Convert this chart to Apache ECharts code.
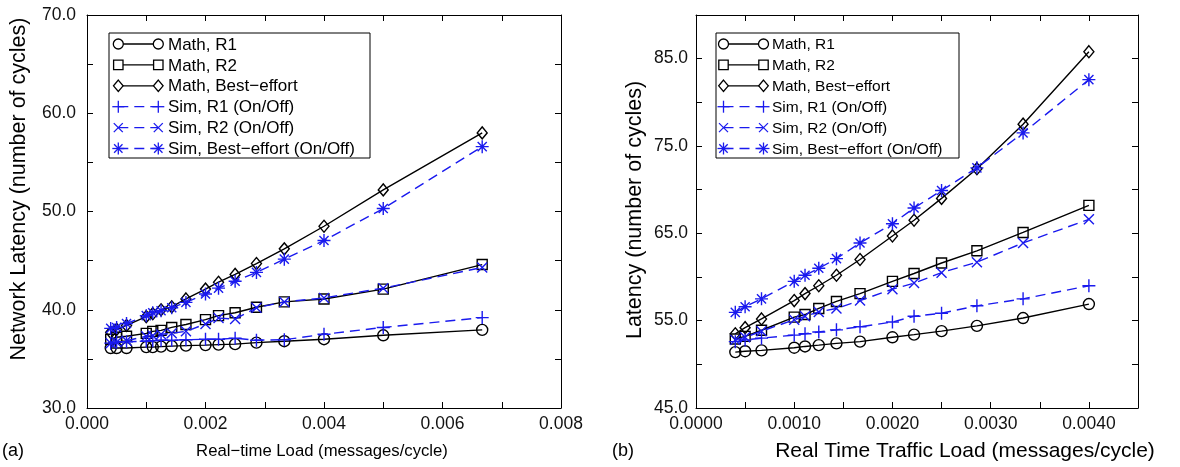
<!DOCTYPE html>
<html>
<head>
<meta charset="utf-8">
<script src="https://cdn.jsdelivr.net/npm/echarts@6/dist/echarts.min.js"></script>
<style>
html,body{margin:0;padding:0;background:#fff;}
#chart{width:1180px;height:467px;}
</style>
</head>
<body>
<div id="chart"></div>
<script>
// ---------- data ----------
const loadA = [0.0004, 0.0005, 0.000667, 0.001, 0.00111, 0.00125, 0.00143, 0.00167, 0.002, 0.00222, 0.0025, 0.00286, 0.00333, 0.004, 0.005, 0.00667];
const mathR1A = [36.1, 36.1, 36.1, 36.2, 36.2, 36.25, 36.3, 36.35, 36.4, 36.45, 36.5, 36.65, 36.8, 37.0, 37.4, 37.95];
const mathR2A = [37.0, 37.2, 37.3, 37.6, 37.8, 37.9, 38.2, 38.5, 39.0, 39.4, 39.7, 40.25, 40.8, 41.1, 42.1, 44.6];
const mathBEA = [37.7, 38.0, 38.4, 39.3, 39.6, 40.0, 40.3, 41.1, 42.1, 42.8, 43.6, 44.7, 46.2, 48.5, 52.2, 58.0];
const simR1A = [36.6, 36.7, 36.75, 36.8, 36.85, 36.9, 36.9, 36.95, 37.0, 37.0, 37.1, 36.9, 36.95, 37.5, 38.2, 39.2];
const simR2A = [36.6, 36.7, 36.85, 37.3, 37.35, 37.5, 37.6, 37.8, 38.55, 39.15, 39.05, 40.2, 40.8, 41.2, 42.2, 44.3];
const simBEA = [38.1, 38.2, 38.6, 39.4, 39.7, 39.9, 40.2, 40.75, 41.6, 42.2, 42.9, 43.8, 45.15, 47.05, 50.3, 56.6];

const loadB = [0.0004, 0.0005, 0.000667, 0.001, 0.00111, 0.00125, 0.00143, 0.00167, 0.002, 0.00222, 0.0025, 0.00286, 0.00333, 0.004];
const mathR1B = [51.4, 51.5, 51.6, 51.9, 52.05, 52.2, 52.4, 52.6, 53.1, 53.4, 53.8, 54.4, 55.3, 56.9];
const mathR2B = [52.9, 53.2, 53.9, 55.4, 55.7, 56.4, 57.2, 58.1, 59.5, 60.4, 61.6, 63.0, 65.1, 68.2];
const mathBEB = [53.5, 54.2, 55.2, 57.3, 58.1, 59.0, 60.2, 62.0, 64.7, 66.5, 69.0, 72.4, 77.5, 85.8];
const simR1B = [52.6, 52.8, 53.0, 53.35, 53.5, 53.7, 53.95, 54.3, 54.85, 55.5, 55.85, 56.7, 57.5, 59.0];
const simR2B = [52.8, 53.1, 53.8, 55.1, 55.5, 56.0, 56.4, 57.3, 58.6, 59.3, 60.5, 61.7, 63.9, 66.6];
const simBEB = [55.95, 56.6, 57.5, 59.5, 60.2, 61.0, 62.1, 63.9, 66.1, 67.9, 69.9, 72.5, 76.5, 82.6];

const seriesNames = ['Math, R1', 'Math, R2', 'Math, Best\u2212effort', 'Sim, R1 (On/Off)', 'Sim, R2 (On/Off)', 'Sim, Best\u2212effort (On/Off)'];
const xTitleA = 'Real\u2212time Load (messages/cycle)';
const xTitleB = 'Real Time Traffic Load (messages/cycle)';
const yTitleA = 'Network Latency (number of cycles)';
const yTitleB = 'Latency (number of cycles)';

// ---------- styles ----------
const FONT = '"Liberation Sans", Arial, Helvetica, sans-serif';
const BLACK = '#000000';
const BLUE = '#1a1aee';
const DASH = [10, 6];
const PLUS = 'path://M0,5L10,5M5,0L5,10';
const CROSS = 'path://M0,0L10,10M0,10L10,0';
const STAR = 'path://M0,5L10,5M5,0L5,10M1.5,1.5L8.5,8.5M1.5,8.5L8.5,1.5';
const meta = [
  {marker: 'circle', sym: 'circle', size: 11, color: BLACK, dash: 'solid'},
  {marker: 'square', sym: 'rect', size: 10, color: BLACK, dash: 'solid'},
  {marker: 'diamond', sym: 'diamond', size: [10, 12], color: BLACK, dash: 'solid'},
  {marker: 'plus', sym: PLUS, size: 13, color: BLUE, dash: DASH},
  {marker: 'cross', sym: CROSS, size: 10, color: BLUE, dash: DASH},
  {marker: 'star', sym: STAR, size: 13, color: BLUE, dash: DASH}
];

function mkSeries(name, idx, xs, ys, axisIdx) {
  const m = meta[idx];
  return {
    type: 'line', name: name, xAxisIndex: axisIdx, yAxisIndex: axisIdx,
    data: xs.map((x, i) => [x, ys[i]]),
    symbol: m.sym, symbolSize: m.size, showSymbol: true,
    itemStyle: {color: 'rgba(0,0,0,0)', borderColor: m.color, borderWidth: 1.4},
    lineStyle: {color: m.color, width: 1.4, type: m.dash},
    emphasis: {disabled: true}, silent: true, z: idx >= 3 ? 3 : 2
  };
}

const axisLine = {show: true, onZero: false, lineStyle: {color: BLACK, width: 1}};
const tickIn = {show: true, inside: true, length: 6, lineStyle: {color: BLACK, width: 1}};
const labelStyle = {color: '#111', fontFamily: FONT, fontSize: 17.5};

function xAxes(grid, max, interval, fmt) {
  return [
    {type: 'value', gridIndex: grid, position: 'bottom', min: 0, max: max, interval: interval,
     axisLine: axisLine, axisTick: tickIn, splitLine: {show: false},
     axisLabel: Object.assign({margin: 7, formatter: fmt, showMaxLabel: true}, labelStyle)},
    {type: 'value', gridIndex: grid, position: 'top', min: 0, max: max, interval: interval,
     axisLine: axisLine, axisTick: tickIn, splitLine: {show: false}, axisLabel: {show: false}}
  ];
}
function yAxes(grid, min, max, interval, fmt, margin) {
  return [
    {type: 'value', gridIndex: grid, position: 'left', min: min, max: max, interval: interval,
     axisLine: axisLine, axisTick: tickIn, splitLine: {show: false},
     axisLabel: Object.assign({margin: margin, formatter: fmt}, labelStyle)},
    {type: 'value', gridIndex: grid, position: 'right', min: min, max: max, interval: interval,
     axisLine: axisLine, axisTick: tickIn, splitLine: {show: false}, axisLabel: {show: false}}
  ];
}

// ---------- legend (graphic) ----------
function marker(type, cx, cy, color) {
  const st = {stroke: color, fill: '#fff', lineWidth: 1.3};
  const ln = (x1, y1, x2, y2) => ({type: 'line', shape: {x1: x1, y1: y1, x2: x2, y2: y2}, style: {stroke: color, lineWidth: 1.3}});
  if (type === 'circle') return [{type: 'circle', shape: {cx: cx, cy: cy, r: 5}, style: st}];
  if (type === 'square') return [{type: 'rect', shape: {x: cx - 4.7, y: cy - 4.7, width: 9.4, height: 9.4}, style: st}];
  if (type === 'diamond') return [{type: 'polygon', shape: {points: [[cx, cy - 5.7], [cx + 4.8, cy], [cx, cy + 5.7], [cx - 4.8, cy]]}, style: st}];
  if (type === 'plus') return [ln(cx - 6, cy, cx + 6, cy), ln(cx, cy - 6, cx, cy + 6)];
  if (type === 'cross') return [ln(cx - 4.5, cy - 4.5, cx + 4.5, cy + 4.5), ln(cx - 4.5, cy + 4.5, cx + 4.5, cy - 4.5)];
  if (type === 'star') return [ln(cx - 6, cy, cx + 6, cy), ln(cx, cy - 6, cx, cy + 6), ln(cx - 4.2, cy - 4.2, cx + 4.2, cy + 4.2), ln(cx - 4.2, cy + 4.2, cx + 4.2, cy - 4.2)];
  return [];
}
function legend(left, top, w, h, mOff, tOff, fs) {
  const els = [{type: 'rect', shape: {x: left, y: top, width: w, height: h}, style: {fill: '#fff', stroke: BLACK, lineWidth: 1}}];
  seriesNames.forEach((nm, i) => {
    const m = meta[i];
    const cy = top + 11 + i * 20.9;
    const x1 = left + mOff, x2 = left + mOff + 40;
    const lst = {stroke: m.color, lineWidth: 1.3};
    if (m.dash !== 'solid') lst.lineDash = DASH;
    els.push({type: 'line', shape: {x1: x1, y1: cy, x2: x2, y2: cy}, style: lst});
    marker(m.marker, x1, cy, m.color).forEach(e => els.push(e));
    marker(m.marker, x2, cy, m.color).forEach(e => els.push(e));
    els.push({type: 'text', x: left + tOff, y: cy + 1,
      style: {text: nm, font: fs + 'px ' + FONT, fill: BLACK, align: 'left', verticalAlign: 'middle', textAlign: 'left', textVerticalAlign: 'middle'}});
  });
  return els.map(e => Object.assign({z: 100, silent: true}, e));
}
function txt(t, x, y, size, rot, align) {
  return {type: 'text', x: x, y: y, rotation: rot || 0, z: 100, silent: true,
    style: {text: t, font: size + 'px ' + FONT, fill: BLACK, align: align || 'center', verticalAlign: 'middle', textAlign: align || 'center', textVerticalAlign: 'middle'}};
}

const fmtXA = v => (Math.round(v * 1000) % 2 === 0) ? v.toFixed(3) : '';
const fmtXB = v => (Math.round(v * 10000) % 10 === 0) ? v.toFixed(4) : '';
const fmtYA = v => (Math.round(v) % 10 === 0) ? v.toFixed(1) : '';
const fmtYB = v => (Math.round(v) % 10 === 5) ? v.toFixed(1) : '';

const chart = echarts.init(document.getElementById('chart'), null, {renderer: 'canvas'});
const option = {
  animation: false,
  backgroundColor: '#ffffff',
  grid: [
    {left: 87, top: 15, width: 474, height: 393, containLabel: false},
    {left: 696, top: 15, width: 442, height: 393, containLabel: false}
  ],
  xAxis: [].concat(xAxes(0, 0.008, 0.001, fmtXA), xAxes(1, 0.0045, 0.0005, fmtXB)),
  yAxis: [].concat(yAxes(0, 30, 70, 5, fmtYA, 11), yAxes(1, 45, 90, 5, fmtYB, 8)),
  series: [
    mkSeries(seriesNames[0], 0, loadA, mathR1A, 0),
    mkSeries(seriesNames[1], 1, loadA, mathR2A, 0),
    mkSeries(seriesNames[2], 2, loadA, mathBEA, 0),
    mkSeries(seriesNames[3], 3, loadA, simR1A, 0),
    mkSeries(seriesNames[4], 4, loadA, simR2A, 0),
    mkSeries(seriesNames[5], 5, loadA, simBEA, 0),
    mkSeries(seriesNames[0], 0, loadB, mathR1B, 2),
    mkSeries(seriesNames[1], 1, loadB, mathR2B, 2),
    mkSeries(seriesNames[2], 2, loadB, mathBEB, 2),
    mkSeries(seriesNames[3], 3, loadB, simR1B, 2),
    mkSeries(seriesNames[4], 4, loadB, simR2B, 2),
    mkSeries(seriesNames[5], 5, loadB, simBEB, 2)
  ],
  graphic: {elements: [].concat(
    legend(109, 33, 261, 125, 9.3, 59, 17),
    legend(716, 33, 243, 125, 7.5, 56, 15.5),
    [
      txt(yTitleA, 19, 189, 21.5, Math.PI / 2),
      txt(yTitleB, 635, 210, 21.5, Math.PI / 2),
      txt(xTitleA, 322, 451, 16.7),
      txt(xTitleB, 965, 451, 21),
      txt('(a)', 2, 451, 18, 0, 'left'),
      txt('(b)', 612, 451, 18, 0, 'left')
    ]
  )}
};
chart.setOption(option);
</script>
</body>
</html>
